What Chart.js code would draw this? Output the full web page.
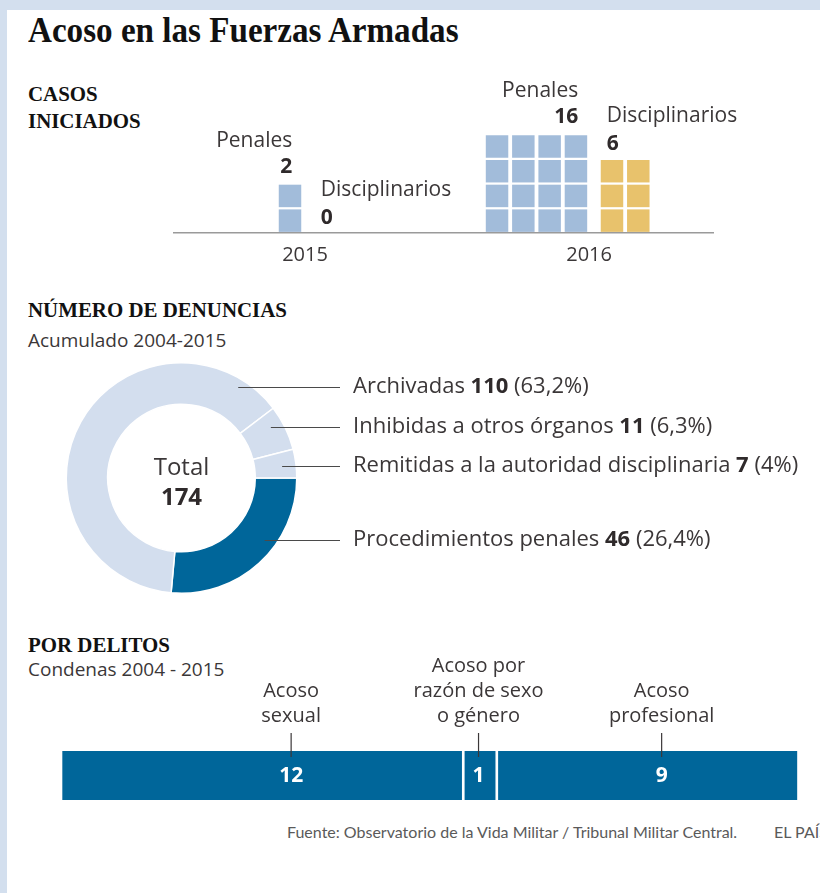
<!DOCTYPE html>
<html>
<head>
<meta charset="utf-8">
<script src="https://cdn.jsdelivr.net/npm/chart.js@4.4.0/dist/chart.umd.min.js"></script>
<style>
  html, body { margin: 0; padding: 0; width: 820px; height: 893px; overflow: hidden; background: #d3dfee; }
  #panel { position: absolute; left: 7px; top: 10px; right: 0; bottom: 0; background: #fff; }
  .abs { position: absolute; white-space: nowrap; }
  .title { font-family: "Liberation Serif", serif; font-weight: bold; font-size: 36px; color: #111; transform-origin: 0 0; }
  .head { font-family: "Liberation Serif", serif; font-weight: bold; font-size: 22px; color: #111; line-height: 27px; transform-origin: 0 0; }
  .sub { font-family: "Open Sans", sans-serif; font-size: 19px; color: #3b3738; }
  .foot { font-family: Lato, sans-serif; font-size: 16px; color: #5a5a5a; }
  canvas { position: absolute; }
</style>
</head>
<body>
<div id="panel"></div>
<div class="abs title" style="left:28px; top:9px; transform:scaleX(0.92)">Acoso en las Fuerzas Armadas</div>
<div class="abs head" style="left:28px; top:80px; transform:scaleX(0.95)">CASOS<br>INICIADOS</div>
<div class="abs head" style="left:28px; top:296px; transform:scaleX(0.95)">NÚMERO DE DENUNCIAS</div>
<div class="abs sub" style="left:28px; top:327px">Acumulado 2004-2015</div>
<div class="abs head" style="left:28px; top:631px; transform:scaleX(0.95)">POR DELITOS</div>
<div class="abs sub" style="left:28px; top:656px">Condenas 2004 - 2015</div>
<div class="abs foot" style="left:287px; top:822px">Fuente: Observatorio de la Vida Militar / Tribunal Militar Central.</div>
<div class="abs foot" style="left:774px; top:822px">EL PAÍS</div>

<canvas id="casosChart" width="650" height="217" style="left:150px; top:60px"></canvas>
<canvas id="denunciasChart" width="792" height="260" style="left:28px; top:350px"></canvas>
<canvas id="delitosChart" width="780" height="170" style="left:40px; top:640px"></canvas>

<script>
// ---- data ----
const years          = ['2015', '2016'];
const penales        = [2, 16];
const disciplinarios = [0, 6];
const penalesColHeight = [2, 4];   // squares per column
const discColHeight    = [3, 3];

const denunciaLabels = ['Procedimientos penales', 'Archivadas', 'Inhibidas a otros órganos', 'Remitidas a la autoridad disciplinaria'];
const denunciaValues = [46, 110, 11, 7];

const delitoLabels = [['Acoso', 'sexual'], ['Acoso por', 'razón de sexo', 'o género'], ['Acoso', 'profesional']];
const delitoValues = [12, 1, 9];

// ---- shared style ----
const TEXT  = '#3b3738';
const DARK  = '#2f2a2b';
const SANS  = '"Open Sans", sans-serif';
const BLUE_SQ = '#a2bcda';
const GOLD_SQ = '#e8c26c';
const NAVY  = '#00669a';
const PALE  = '#d3deee';

const fmtPct = v => {
  const s = (Math.round(v * 10) / 10).toFixed(1).replace('.', ',');
  return (s.endsWith(',0') ? s.slice(0, -2) : s) + '%';
};

// ---- 1. casos iniciados (waffle) ----
const groupStart = [4.41, 12.28];   // column position of first penales square per year
const yearTickAt = [4.98, 15.78];
const DISC_GAP   = 1.37;

function squares(count, colHeight, start) {
  const pts = [];
  for (let k = 0; k < count; k++) {
    pts.push({ x: start + Math.floor(k / colHeight), y: (k % colHeight) + 0.5 });
  }
  return pts;
}
const discStart = years.map((_, g) => groupStart[g] + Math.ceil(penales[g] / penalesColHeight[g]) - 1 + DISC_GAP);
const penalesPts = years.flatMap((_, g) => squares(penales[g], penalesColHeight[g], groupStart[g]));
const discPts    = years.flatMap((_, g) => squares(disciplinarios[g], discColHeight[g], discStart[g]));

const waffleLabels = {
  id: 'waffleLabels',
  afterDatasetsDraw(chart) {
    const { ctx, scales: { x, y } } = chart;
    const half = 11.25;
    ctx.save();
    ctx.textBaseline = 'middle';
    years.forEach((yr, g) => {
      // penales: right aligned over last column
      const pCols = Math.ceil(penales[g] / penalesColHeight[g]);
      const pRight = x.getPixelForValue(groupStart[g] + pCols - 1) + half - 9;
      const pTop = y.getPixelForValue(Math.min(penales[g], penalesColHeight[g]));
      ctx.textAlign = 'right';
      ctx.fillStyle = DARK; ctx.font = `bold 21px ${SANS}`;
      ctx.fillText(String(penales[g]), pRight, pTop - 17);
      ctx.fillStyle = TEXT; ctx.font = `21px ${SANS}`;
      ctx.fillText('Penales', pRight, pTop - 43);
      // disciplinarios: left aligned over first column
      const dLeft = x.getPixelForValue(discStart[g]) - half + 6;
      const dTop = y.getPixelForValue(Math.min(disciplinarios[g], discColHeight[g]));
      ctx.textAlign = 'left';
      ctx.fillStyle = DARK; ctx.font = `bold 21px ${SANS}`;
      ctx.fillText(String(disciplinarios[g]), dLeft, dTop - 15);
      ctx.fillStyle = TEXT; ctx.font = `21px ${SANS}`;
      ctx.fillText('Disciplinarios', dLeft, dTop - 43);
    });
    ctx.restore();
  }
};

new Chart(document.getElementById('casosChart'), {
  type: 'scatter',
  data: {
    datasets: [
      { label: 'Penales', data: penalesPts, backgroundColor: BLUE_SQ },
      { label: 'Disciplinarios', data: discPts, backgroundColor: GOLD_SQ },
    ],
  },
  options: {
    responsive: false, animation: false, events: [],
    layout: { autoPadding: false, padding: { left: 24, right: 87, top: 0, bottom: 0 } },
    elements: { point: { pointStyle: 'rect', radius: 15.9, hoverRadius: 15.9, borderWidth: 0 } },
    plugins: { legend: { display: false }, tooltip: { enabled: false } },
    scales: {
      x: {
        type: 'linear', min: 0, max: 20.49,
        grid: { display: false, drawTicks: false },
        border: { display: true, color: '#9a9a9a', width: 1.5 },
        afterBuildTicks: axis => { axis.ticks = yearTickAt.map(v => ({ value: v })); },
        ticks: { color: TEXT, font: { family: SANS, size: 20 }, padding: 10,
                 callback: (v, i) => years[i] },
      },
      y: { min: 0, max: 7, display: false },
    },
  },
  plugins: [waffleLabels],
});

// ---- 2. número de denuncias (doughnut) ----
const labelOrder = [1, 2, 3, 0];           // top-to-bottom order of the callouts
const labelDy    = [-91, -51, -12, 62];    // callout offset from centre

const donutCallouts = {
  id: 'donutCallouts',
  afterDatasetsDraw(chart) {
    const { ctx } = chart;
    const arc = chart.getDatasetMeta(0).data[0];
    const cx = arc.x, cy = arc.y, R = arc.outerRadius;
    const total = denunciaValues.reduce((s, v) => s + v, 0);
    ctx.save();
    ctx.textBaseline = 'middle';
    ctx.textAlign = 'center';
    ctx.fillStyle = TEXT; ctx.font = `24px ${SANS}`;
    ctx.fillText('Total', cx, cy - 10);
    ctx.fillStyle = DARK; ctx.font = `bold 24px ${SANS}`;
    ctx.fillText(String(total), cx, cy + 20);

    ctx.textAlign = 'left';
    const lineEnd = 340 - 28, textX = 353 - 28;
    labelOrder.forEach((idx, n) => {
      const yy = cy + labelDy[n];
      const x0 = cx + Math.sqrt(R * R - labelDy[n] * labelDy[n]) - 14;
      ctx.strokeStyle = '#4a4a4a'; ctx.lineWidth = 1;
      ctx.beginPath(); ctx.moveTo(x0, yy + 0.5); ctx.lineTo(lineEnd, yy + 0.5); ctx.stroke();
      const parts = [
        [`22px ${SANS}`, TEXT, denunciaLabels[idx] + ' '],
        [`bold 22px ${SANS}`, DARK, String(denunciaValues[idx])],
        [`22px ${SANS}`, TEXT, ' (' + fmtPct(denunciaValues[idx] / total * 100) + ')'],
      ];
      let tx = textX;
      parts.forEach(([font, col, str]) => {
        ctx.font = font; ctx.fillStyle = col;
        ctx.fillText(str, tx, yy);
        tx += ctx.measureText(str).width;
      });
    });
    ctx.restore();
  }
};

new Chart(document.getElementById('denunciasChart'), {
  type: 'doughnut',
  data: {
    labels: denunciaLabels,
    datasets: [{
      data: denunciaValues,
      backgroundColor: [NAVY, PALE, PALE, PALE],
      borderColor: '#fff', borderWidth: 1.5, hoverOffset: 0,
    }],
  },
  options: {
    responsive: false, animation: false, events: [],
    rotation: 90, cutout: '64%',
    layout: { padding: { left: 37.5, right: 522.5, top: 12, bottom: 16 } },
    plugins: { legend: { display: false }, tooltip: { enabled: false } },
  },
  plugins: [donutCallouts],
});

// ---- 3. por delitos (stacked bar) ----
const numberShift = [29, -1.5, 14];   // callout position within each segment

const delitoCallouts = {
  id: 'delitoCallouts',
  afterDatasetsDraw(chart) {
    const { ctx, chartArea } = chart;
    ctx.save();
    delitoValues.forEach((v, i) => {
      const bar = chart.getDatasetMeta(i).data[0];
      const xc = (bar.x + bar.base) / 2 + numberShift[i];
      ctx.strokeStyle = '#3b3738'; ctx.lineWidth = 1.2;
      ctx.beginPath(); ctx.moveTo(xc, chartArea.top - 18); ctx.lineTo(xc, chartArea.top + 6); ctx.stroke();
      ctx.textAlign = 'center'; ctx.textBaseline = 'middle';
      ctx.fillStyle = '#fff'; ctx.font = `bold 21px ${SANS}`;
      ctx.fillText(String(v), xc, bar.y + 1);
      ctx.fillStyle = TEXT; ctx.font = `20px ${SANS}`;
      const lines = delitoLabels[i];
      lines.forEach((ln, k) => {
        ctx.fillText(ln, xc, chartArea.top - 35 - (lines.length - 1 - k) * 25);
      });
    });
    ctx.restore();
  }
};

new Chart(document.getElementById('delitosChart'), {
  type: 'bar',
  data: {
    labels: [''],
    datasets: delitoValues.map((v, i) => ({
      label: delitoLabels[i].join(' '),
      data: [v],
      backgroundColor: NAVY,
      borderColor: '#fff',
      borderWidth: { left: 1.65, right: 1.65, top: 0, bottom: 0 },
      borderSkipped: false,
      barPercentage: 1, categoryPercentage: 1,
    })),
  },
  options: {
    responsive: false, animation: false, events: [],
    indexAxis: 'y',
    layout: { padding: { left: 21, right: 21.5, top: 111, bottom: 10 } },
    plugins: { legend: { display: false }, tooltip: { enabled: false } },
    scales: {
      x: { stacked: true, min: 0, max: delitoValues.reduce((s, v) => s + v, 0), display: false },
      y: { stacked: true, display: false },
    },
  },
  plugins: [delitoCallouts],
});
</script>
</body>
</html>
